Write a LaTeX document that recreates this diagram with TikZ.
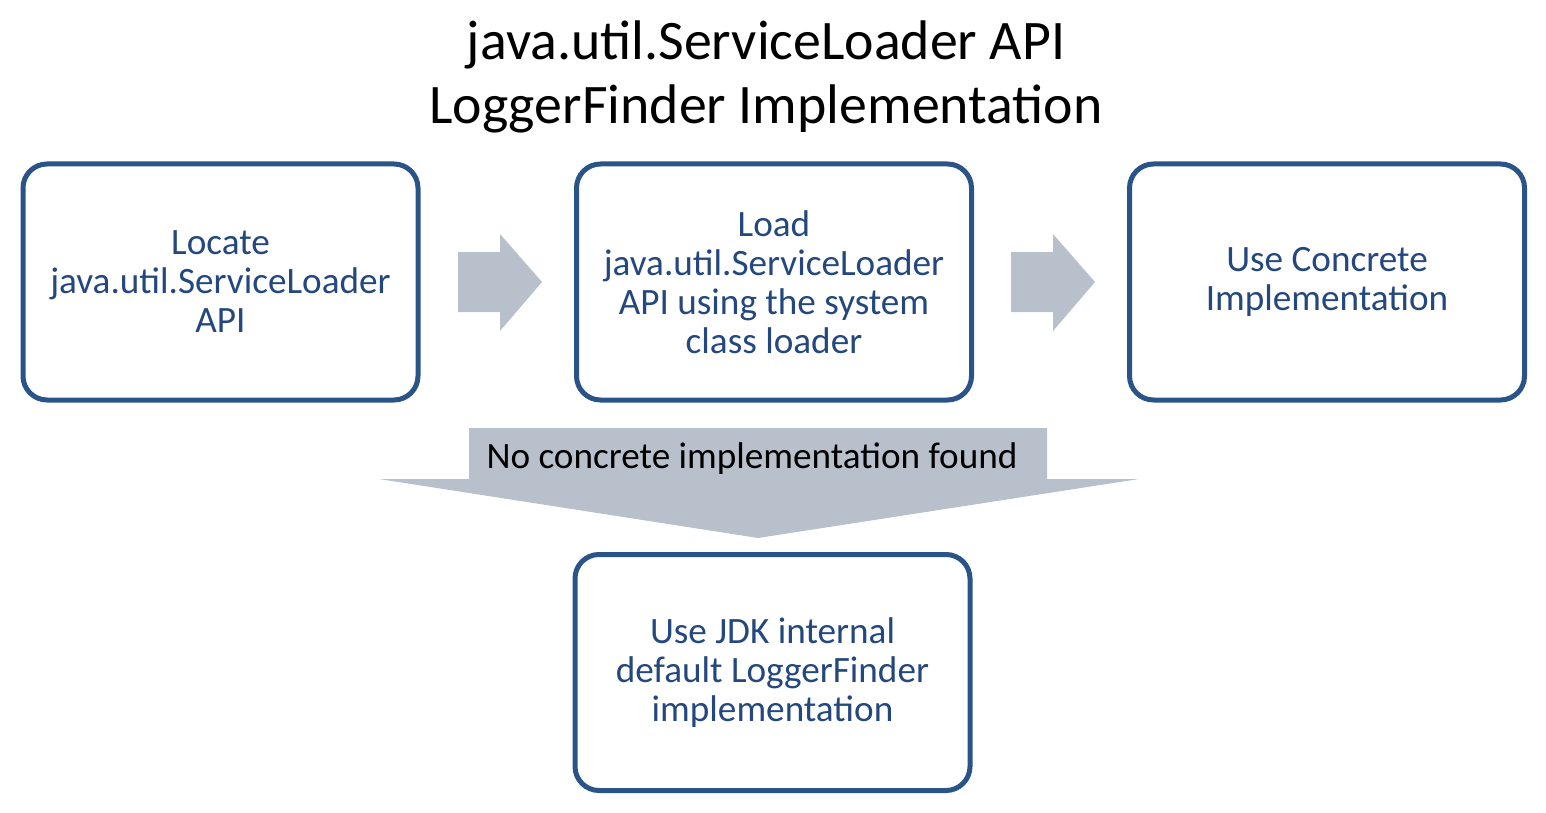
\documentclass[tikz,border=0pt]{standalone}
\usepackage{fontspec}
\setmainfont{Carlito}
\usetikzlibrary{calc}
\definecolor{boxblue}{HTML}{2A5488}
\definecolor{txtblue}{HTML}{24487E}
\definecolor{arrowgray}{HTML}{B8C0CB}
\begin{document}
\begin{tikzpicture}[x=1pt,y=-1pt,
  stepbox/.style={draw=boxblue, line width=5pt, rounded corners=24pt,
    minimum width=395pt, minimum height=236pt, inner sep=0pt,
    text width=385pt, align=flush center, text=txtblue,
    font=\fontsize{37.2}{39}\selectfont},
  blockarrow/.style={fill=arrowgray, draw=none}]
\useasboundingbox (0,0) rectangle (1546,813);
\node[font=\fontsize{55.8}{64}\selectfont, align=center] (title) at (766,77)
  {java.util.ServiceLoader API\\LoggerFinder Implementation};
\node[stepbox] (b1) at (220.5,282) {Locate\\java.util.ServiceLoader\\API};
\node[stepbox] (b2) at (774,282) {Load\\java.util.ServiceLoader\\API using the system\\class loader};
\node[stepbox] (b3) at (1327,282) {Use Concrete\\Implementation};
\node[stepbox] (b4) at (772.5,672.5) {Use JDK internal\\default LoggerFinder\\implementation};
% block arrows
\fill[blockarrow] (458,252) -- (500,252) -- (500,234) -- (542,282) -- (500,331) -- (500,312) -- (458,312) -- cycle;
\fill[blockarrow] (1011,252) -- (1053,252) -- (1053,234) -- (1095,282) -- (1053,331) -- (1053,312) -- (1011,312) -- cycle;
\fill[blockarrow] (469,428) -- (1047,428) -- (1047,479) -- (1139,479) -- (758,538) -- (379,479) -- (469,479) -- cycle;
\node[font=\fontsize{37.2}{39}\selectfont, inner sep=0pt] (lbl) at (752,459) {No concrete implementation found};
\end{tikzpicture}
\end{document}
